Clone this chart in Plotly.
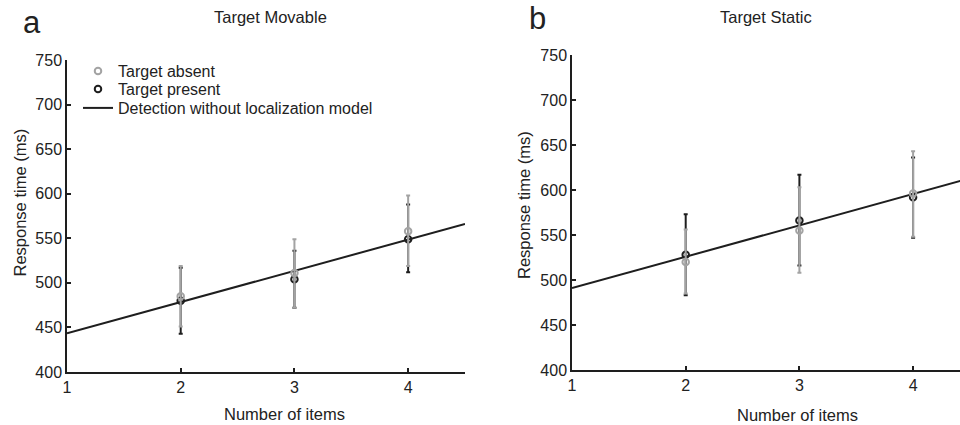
import plotly.graph_objects as go

# ---------------- data ----------------
set_size = [2, 3, 4]

mov_absent_mean = [485, 511, 558]
mov_absent_hi = [519, 549, 598]
mov_absent_lo = [451, 472, 519]

mov_present_mean = [480, 504, 549]
mov_present_hi = [517, 536, 588]
mov_present_lo = [443, 472, 512]

sta_absent_mean = [520, 555, 596]
sta_absent_hi = [556, 603, 643]
sta_absent_lo = [485, 508, 548]

sta_present_mean = [528, 566, 592]
sta_present_hi = [573, 617, 636]
sta_present_lo = [483, 516, 547]

model_x = [1, 4.5]
model_mov_y = [443.5, 566]
model_sta_y = [491, 613]

y_ticks = [400, 450, 500, 550, 600, 650, 700, 750]
x_ticks = [1, 2, 3, 4]

GRAY = "#a3a3a3"
BLACK = "#1e1e1e"
FONT = "Liberation Sans, Arial, sans-serif"
W, H = 960, 425


def px(x):
    return x / W


def py(y):
    return 1 - y / H


def err(mean, hi, lo):
    return [h - m for h, m in zip(hi, mean)], [m - l for m, l in zip(mean, lo)]


fig = go.Figure()


def add_panel(xa, ya, pres, ab, model_y, show):
    p_up, p_dn = err(*pres)
    a_up, a_dn = err(*ab)
    fig.add_trace(go.Scatter(
        x=model_x, y=model_y, mode="lines", xaxis=xa, yaxis=ya,
        line=dict(color=BLACK, width=2), name="Detection without localization model",
        showlegend=show, legend="legend3"))
    fig.add_trace(go.Scatter(
        x=set_size, y=pres[0], mode="markers", xaxis=xa, yaxis=ya,
        marker=dict(symbol="circle-open", size=6.5, color=BLACK, line=dict(width=2)),
        error_y=dict(type="data", array=p_up, arrayminus=p_dn, color=BLACK,
                     thickness=2, width=2),
        name="Target present", showlegend=show, legend="legend2"))
    fig.add_trace(go.Scatter(
        x=set_size, y=ab[0], mode="markers", xaxis=xa, yaxis=ya,
        marker=dict(symbol="circle-open", size=6.5, color=GRAY, line=dict(width=2)),
        error_y=dict(type="data", array=a_up, arrayminus=a_dn, color=GRAY,
                     thickness=2, width=2),
        name="Target absent", showlegend=show, legend="legend"))


add_panel("x", "y", (mov_present_mean, mov_present_hi, mov_present_lo),
          (mov_absent_mean, mov_absent_hi, mov_absent_lo), model_mov_y, True)
add_panel("x2", "y2", (sta_present_mean, sta_present_hi, sta_present_lo),
          (sta_absent_mean, sta_absent_hi, sta_absent_lo), model_sta_y, False)

axis_common = dict(showline=True, linecolor=BLACK, linewidth=1.5, ticks="inside",
                   ticklen=4, tickwidth=1.5, tickcolor=BLACK, showgrid=False,
                   zeroline=False, automargin=False,
                   tickfont=dict(family=FONT, size=16, color="#222"))

legend_common = dict(font=dict(family=FONT, size=16, color="#222"), bgcolor="rgba(0,0,0,0)",
                     borderwidth=0, xanchor="left", yanchor="middle", x=px(78))

fig.update_layout(
    template="none",
    width=W, height=H, margin=dict(l=0, r=0, t=0, b=0),
    paper_bgcolor="white", plot_bgcolor="white",
    xaxis=dict(domain=[px(67), px(465)], range=[1, 4.5], tickvals=x_ticks,
               anchor="y", **axis_common),
    yaxis=dict(domain=[py(372), py(60)], range=[400, 750], tickvals=y_ticks,
               anchor="x", **axis_common),
    xaxis2=dict(domain=[px(572), 1.0], range=[1, 1 + 388 / 113.7], tickvals=x_ticks,
                anchor="y2", **axis_common),
    yaxis2=dict(domain=[py(370), py(55)], range=[400, 750], tickvals=y_ticks,
                anchor="x2", **axis_common),
    legend=dict(y=py(71), **legend_common),
    legend2=dict(y=py(89), **legend_common),
    legend3=dict(y=py(108), **legend_common),
)

ann = [
    ("a", 32, 23, 31, 0),
    ("b", 537, 18, 31, 0),
    ("Target Movable", 270, 17.5, 16.5, 0),
    ("Target Static", 766, 17.5, 16.5, 0),
    ("Response time (ms)", 19.5, 203, 16.5, -90),
    ("Response time (ms)", 524, 205, 16.5, -90),
    ("Number of items", 284.5, 414, 16.5, 0),
    ("Number of items", 797, 415, 16.5, 0),
]
for text, x, y, size, ang in ann:
    fig.add_annotation(text=text, x=px(x), y=py(y), xref="paper", yref="paper",
                       xanchor="center", yanchor="middle", showarrow=False,
                       textangle=ang, font=dict(family=FONT, size=size, color="#222"))

fig.write_html(
    "out.html",
    config={"displayModeBar": False},
    post_script="document.body.style.margin='0';document.body.style.overflow='hidden';",
)
